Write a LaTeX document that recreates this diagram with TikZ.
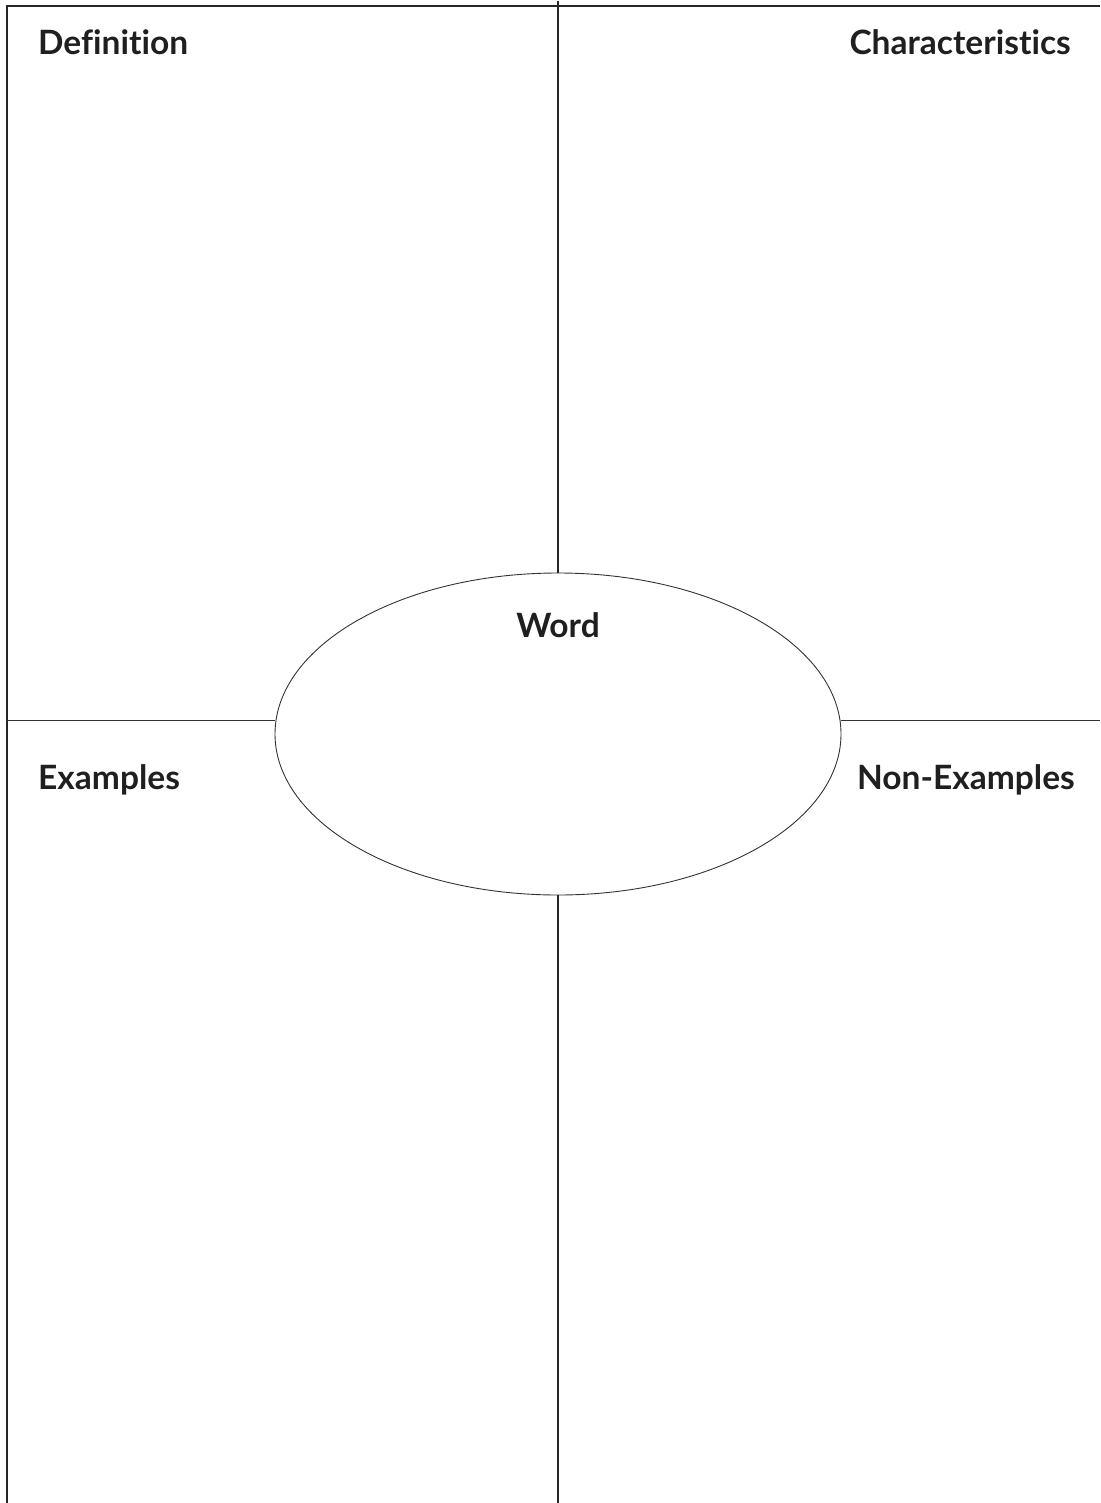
\documentclass[tikz,border=0pt]{standalone}
\usepackage{fontspec}
\setmainfont{Lato}[Ligatures=NoCommon]
\usetikzlibrary{shapes.geometric}
\begin{document}
\begin{tikzpicture}[x=1pt,y=-1pt,
  rule/.style={line width=1.3pt,draw=black!85},
  thin/.style={line width=0.9pt,draw=black!80},
  head/.style={font=\fontsize{33.5}{38}\selectfont\bfseries,text=black!88,inner sep=0pt}]
\useasboundingbox (0,0) rectangle (1100,1503);
% frame
\coordinate (tl) at (7,6);
\coordinate (tr) at (1100,6);
\coordinate (bl) at (7,1503);
\coordinate (vt) at (558,1);
\coordinate (vb) at (558,1503);
\coordinate (ml) at (7,720);
\coordinate (mr) at (1100,720);
\draw[rule] (tr) -- (tl) -- (bl);
% ellipse
\node[ellipse,thin,minimum width=566pt,minimum height=322pt,inner sep=0pt] (ell) at (558,734) {};
\draw[rule] (vt) -- (ell.north);
\draw[rule] (ell.south) -- (vb);
\draw[thin] (ml) -- (ml -| ell.west);
\draw[thin] (mr -| ell.east) -- (mr);
% labels
\node[head,anchor=base west] (def) at (38,55) {Definition};
\node[head,anchor=base east] (chr) at (1071,55) {Characteristics};
\node[head,anchor=base] (wrd) at (558,637) {Word};
\node[head,anchor=base west] (ex) at (38,789) {Examples};
\node[head,anchor=base east] (nex) at (1075,789) {Non-Examples};
\end{tikzpicture}
\end{document}
